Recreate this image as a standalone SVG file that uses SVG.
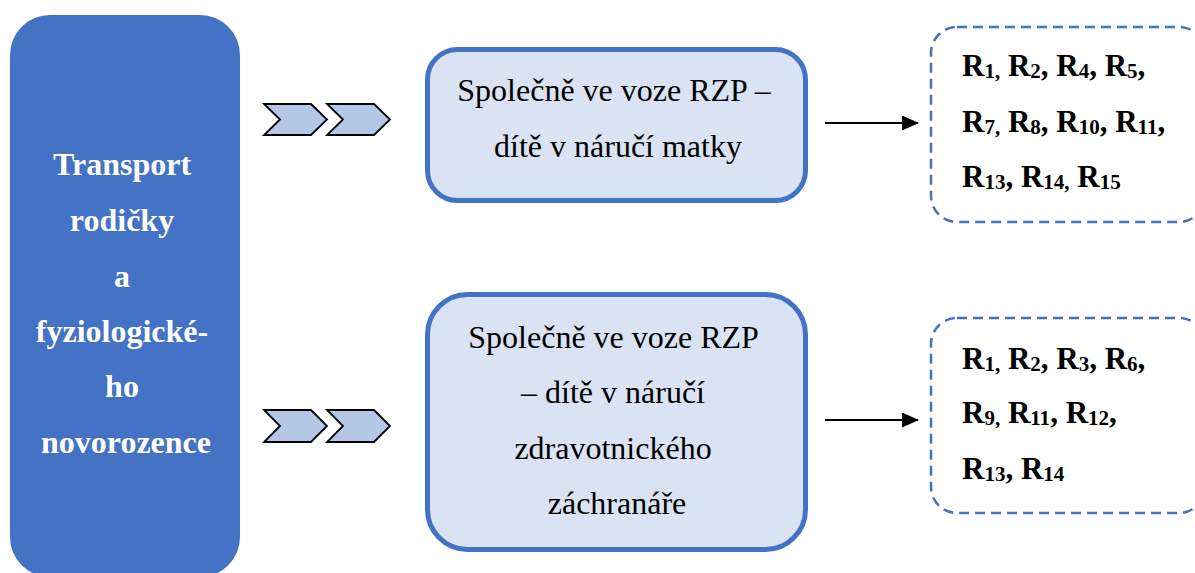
<svg xmlns="http://www.w3.org/2000/svg" width="1195" height="573" viewBox="0 0 1195 573">
  <defs>
    <marker id="arrowhead" markerWidth="17" markerHeight="15" refX="16" refY="7.5" orient="auto" markerUnits="userSpaceOnUse">
      <path d="M0,0 L17,7.5 L0,15 Z" fill="#000"/>
    </marker>
    <style>
      .main { fill: #4472C4; }
      .option { fill: #DAE3F3; stroke: #4472C4; stroke-width: 5; }
      .result { fill: none; stroke: #4472C4; stroke-width: 2.5; stroke-dasharray: 10 6; }
      .chev { fill: #B4C7E7; stroke: #000; stroke-width: 1.8; stroke-linejoin: miter; }
      .arrow { stroke: #000; stroke-width: 2; fill: none; }
      .lbl-main { font-family: "Liberation Serif", "Times New Roman", serif; font-weight: bold; font-size: 32px; fill: #fff; text-anchor: middle; }
      .lbl-opt { font-family: "Liberation Serif", "Times New Roman", serif; font-size: 32px; fill: #000; text-anchor: middle; }
      .lbl-res { font-family: "Liberation Serif", "Times New Roman", serif; font-weight: bold; font-size: 31px; fill: #000; }
      .sub { font-size: 21px; }
    </style>
  </defs>

  <!-- main category -->
  <g id="transport">
    <rect class="main" x="10" y="15" width="230" height="562" rx="40" ry="40"/>
    <text class="lbl-main">
      <tspan x="126" y="175">Transport</tspan>
      <tspan x="126" y="231">rodičky</tspan>
      <tspan x="126" y="287">a</tspan>
      <tspan x="126" y="342">fyziologické-</tspan>
      <tspan x="126" y="397">ho</tspan>
      <tspan x="126" y="453">novorozence</tspan>
    </text>
  </g>

  <!-- chevron pairs -->
  <g id="chevrons-top">
    <polygon class="chev" points="264,104 311,104 327,119.5 311,135 264,135 280,119.5"/>
    <polygon class="chev" points="327,104 374,104 390,119.5 374,135 327,135 343,119.5"/>
  </g>
  <g id="chevrons-bottom">
    <polygon class="chev" points="264,410 311,410 327,426 311,442 264,442 280,426"/>
    <polygon class="chev" points="327,410 374,410 390,426 374,442 327,442 343,426"/>
  </g>

  <!-- option: child held by mother -->
  <g id="option-mother">
    <rect class="option" x="427.5" y="49.5" width="378" height="151" rx="30" ry="30"/>
    <text class="lbl-opt">
      <tspan x="618" y="101">Společně ve voze RZP –</tspan>
      <tspan x="618" y="157">dítě v náručí matky</tspan>
    </text>
  </g>

  <!-- option: child held by paramedic -->
  <g id="option-paramedic">
    <rect class="option" x="427.5" y="294.5" width="378" height="255" rx="40" ry="40"/>
    <text class="lbl-opt">
      <tspan x="617" y="348">Společně ve voze RZP</tspan>
      <tspan x="617" y="403">– dítě v náručí</tspan>
      <tspan x="617" y="459">zdravotnického</tspan>
      <tspan x="617" y="514">záchranáře</tspan>
    </text>
  </g>

  <!-- connectors -->
  <g id="connectors">
    <line class="arrow" x1="825" y1="123" x2="918" y2="123" marker-end="url(#arrowhead)"/>
    <line class="arrow" x1="825" y1="420" x2="918" y2="420" marker-end="url(#arrowhead)"/>
  </g>

  <!-- result list: mother -->
  <g id="result-mother">
    <rect class="result" x="931" y="27" width="274" height="195" rx="26" ry="26"/>
    <text class="lbl-res" x="962" y="76">R<tspan class="sub" dy="2">1,</tspan><tspan dy="-2"> R</tspan><tspan class="sub" dy="2">2</tspan><tspan dy="-2">, R</tspan><tspan class="sub" dy="2">4</tspan><tspan dy="-2">, R</tspan><tspan class="sub" dy="2">5</tspan><tspan dy="-2">,</tspan></text>
    <text class="lbl-res" x="962" y="132">R<tspan class="sub" dy="2">7,</tspan><tspan dy="-2"> R</tspan><tspan class="sub" dy="2">8</tspan><tspan dy="-2">, R</tspan><tspan class="sub" dy="2">10</tspan><tspan dy="-2">, R</tspan><tspan class="sub" dy="2">11</tspan><tspan dy="-2">,</tspan></text>
    <text class="lbl-res" x="962" y="187">R<tspan class="sub" dy="2">13</tspan><tspan dy="-2">, R</tspan><tspan class="sub" dy="2">14,</tspan><tspan dy="-2"> R</tspan><tspan class="sub" dy="2">15</tspan></text>
  </g>

  <!-- result list: paramedic -->
  <g id="result-paramedic">
    <rect class="result" x="931" y="318" width="274" height="195" rx="26" ry="26"/>
    <text class="lbl-res" x="962" y="369">R<tspan class="sub" dy="2">1,</tspan><tspan dy="-2"> R</tspan><tspan class="sub" dy="2">2</tspan><tspan dy="-2">, R</tspan><tspan class="sub" dy="2">3</tspan><tspan dy="-2">, R</tspan><tspan class="sub" dy="2">6</tspan><tspan dy="-2">,</tspan></text>
    <text class="lbl-res" x="962" y="423">R<tspan class="sub" dy="2">9,</tspan><tspan dy="-2"> R</tspan><tspan class="sub" dy="2">11</tspan><tspan dy="-2">, R</tspan><tspan class="sub" dy="2">12</tspan><tspan dy="-2">,</tspan></text>
    <text class="lbl-res" x="962" y="479">R<tspan class="sub" dy="2">13</tspan><tspan dy="-2">, R</tspan><tspan class="sub" dy="2">14</tspan></text>
  </g>
</svg>
